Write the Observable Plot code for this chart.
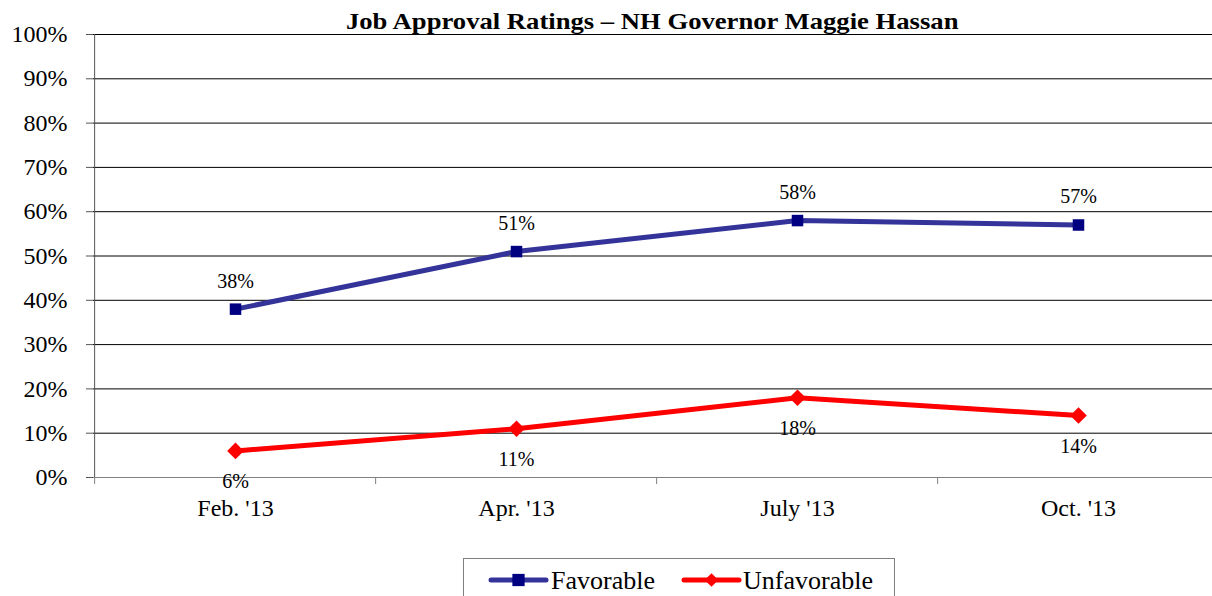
<!DOCTYPE html>
<html>
<head>
<meta charset="utf-8">
<script src="https://cdn.jsdelivr.net/npm/d3@7"></script>
<script src="https://cdn.jsdelivr.net/npm/@observablehq/plot@0.6"></script>
<style>
  html, body { margin: 0; padding: 0; background: #fff; }
  #wrap { position: relative; width: 1212px; height: 596px; overflow: hidden; font-family: "Liberation Serif", "Times New Roman", serif; }
  #title { position: absolute; left: 93px; width: 1119px; top: 9px; text-align: center; font-weight: bold; font-size: 24px; line-height: 24px; color: #000; transform: scaleX(1.11); transform-origin: 562px 0; }
  #legend { position: absolute; left: 463px; top: 558px; width: 432px; height: 50px; border: 1px solid #7f7f7f; box-sizing: border-box; }
  #legend svg { display: block; }
  #chart { position: absolute; left: 0; top: 0; }
</style>
</head>
<body>
<div id="wrap">
  <div id="chart"></div>
  <div id="title">Job Approval Ratings – NH Governor Maggie Hassan</div>
  <div id="legend"></div>
</div>
<script>
const categories = ["Feb. '13", "Apr. '13", "July '13", "Oct. '13"];
const favorable = [38, 51, 58, 57];
const unfavorable = [6, 11, 18, 14];
const yTicks = [0, 10, 20, 30, 40, 50, 60, 70, 80, 90, 100];
const seriesNames = ["Favorable", "Unfavorable"];

const favColor = "#333399", favMarker = "#000080";
const unfColor = "#FF0000", unfMarker = "#FF0000";
const serif = "'Liberation Serif', 'Times New Roman', serif";

const rows = [];
categories.forEach((c, i) => {
  rows.push({cat: c, series: "Favorable", value: favorable[i]});
  rows.push({cat: c, series: "Unfavorable", value: unfavorable[i]});
});
const fav = rows.filter(d => d.series === "Favorable");
const unf = rows.filter(d => d.series === "Unfavorable");

const xRange = [93, 1220];
const step = (xRange[1] - xRange[0]) / categories.length;

const chart = Plot.plot({
  width: 1212,
  height: 530,
  marginLeft: 93,
  marginRight: 0,
  marginTop: 34,
  marginBottom: 53,
  style: {fontFamily: serif, background: "transparent", color: "#000"},
  x: {type: "point", domain: categories, range: xRange, padding: 0.5},
  y: {domain: [0, 100]},
  marks: [
    Plot.ruleY(yTicks.filter(v => v > 0), {y: d => d, stroke: "#000", strokeWidth: 1}),
    Plot.ruleY([0], {stroke: "#808080", strokeWidth: 1}),
    Plot.ruleX([0], {x: () => categories[0], dx: -step / 2, stroke: "#555", strokeWidth: 1, y1: 0, y2: 100}),
    Plot.ruleX(categories, {x: d => d, dx: -step / 2, y1: 0, y2: 0, insetBottom: -7, stroke: "#808080", strokeWidth: 1}),
    Plot.axisY({ticks: yTicks, tickSize: 7, tickPadding: 19, tickFormat: d => d + "%", fontSize: 24, stroke: "#555", label: null, fontFamily: serif}),
    Plot.axisX({tickSize: 0, tickPadding: 21, fontSize: 24, label: null, fontFamily: serif}),
    Plot.line(fav, {x: "cat", y: "value", stroke: favColor, strokeWidth: 5}),
    Plot.line(unf, {x: "cat", y: "value", stroke: unfColor, strokeWidth: 5}),
    Plot.dot(fav, {x: "cat", y: "value", symbol: "square", r: 6.5, fill: favMarker, stroke: "none"}),
    Plot.dot(unf, {x: "cat", y: "value", symbol: "diamond2", r: 7.5, fill: unfMarker, stroke: "none"}),
    Plot.text(fav, {x: "cat", y: "value", text: d => d.value + "%", dy: -28, fontSize: 20, fill: "#000", fontFamily: serif}),
    Plot.text(unf, {x: "cat", y: "value", text: d => d.value + "%", dy: 31, fontSize: 20, fill: "#000", fontFamily: serif})
  ]
});
document.getElementById("chart").appendChild(chart);

// Legend
const legend = d3.select("#legend").append("svg").attr("width", 432).attr("height", 50);
const items = [
  {name: seriesNames[0], color: favColor, marker: favMarker, sym: d3.symbolSquare, size: 150, x0: 27, tx: 87},
  {name: seriesNames[1], color: unfColor, marker: unfMarker, sym: d3.symbolDiamond2, size: 120, x0: 220, tx: 279}
];
items.forEach(it => {
  const g = legend.append("g");
  g.append("line").attr("x1", it.x0).attr("x2", it.x0 + 55).attr("y1", 21).attr("y2", 21)
    .attr("stroke", it.color).attr("stroke-width", 5).attr("stroke-linecap", "round");
  g.append("path").attr("d", d3.symbol(it.sym, it.size)()).attr("transform", `translate(${it.x0 + 27.5},21)`).attr("fill", it.marker);
  g.append("text").attr("x", it.tx).attr("y", 30).attr("font-size", 26)
    .attr("font-family", serif).attr("fill", "#000").text(it.name);
});
</script>
</body>
</html>
